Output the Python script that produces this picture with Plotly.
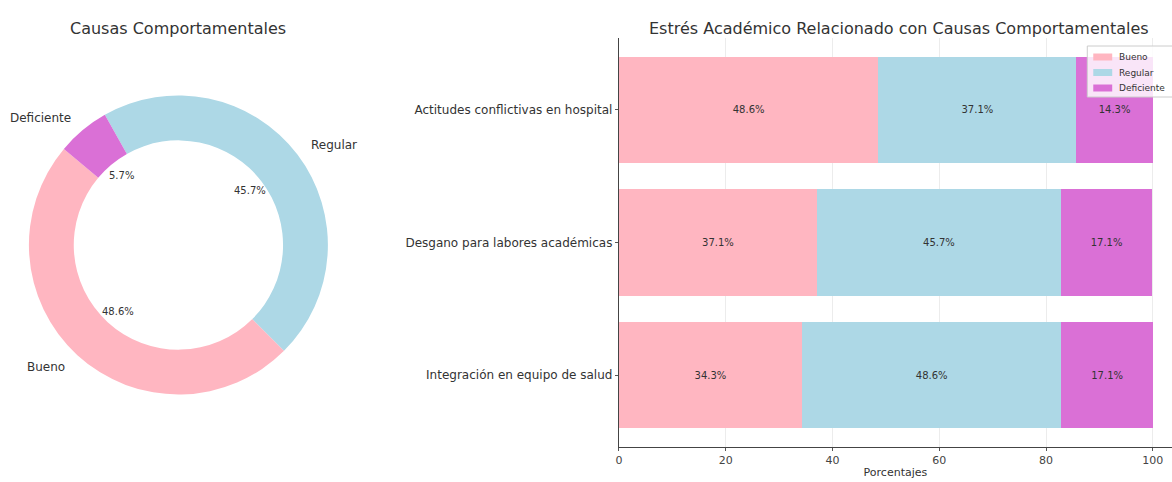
import math
import plotly.graph_objects as go

# ---- data ----
pie_labels = ["Bueno", "Regular", "Deficiente"]
pie_values = [48.6, 45.7, 5.7]

categories = [
    "Integración en equipo de salud",
    "Desgano para labores académicas",
    "Actitudes conflictivas en hospital",
]
bueno = [34.3, 37.1, 48.6]
regular = [48.6, 45.7, 37.1]
deficiente = [17.1, 17.1, 14.3]

series_names = ["Bueno", "Regular", "Deficiente"]
colors = ["#FFB6C1", "#ADD8E6", "#DA70D6"]
x_ticks = [0, 20, 40, 60, 80, 100]

W, H = 1172, 482
FONT = "DejaVu Sans"
TXT = "#333333"


def px(x):
    return x / W


def py(y):
    return 1 - y / H


fig = go.Figure()

# ---- donut ----
# slices run counterclockwise starting at 140 degrees (math convention)
cx, cy, r = 175, 245, 150
start_deg = 140
total = sum(pie_values)
first_span = pie_values[0] / total * 360
fig.add_trace(go.Pie(
    labels=pie_labels, values=pie_values, hole=0.7, sort=False,
    direction="counterclockwise", rotation=90 - start_deg - first_span,
    marker=dict(colors=colors, line=dict(width=0)),
    textinfo="none", hoverinfo="label+percent", showlegend=False,
    domain=dict(x=[px(cx - r), px(cx + r)], y=[py(cy + r), py(cy - r)]),
))

annotations = []
shapes = []
ang = start_deg
for lab, v in zip(pie_labels, pie_values):
    span = v / total * 360
    mid = math.radians(ang + span / 2)
    ang += span
    c, s = math.cos(mid), math.sin(mid)
    annotations.append(dict(
        x=px(cx + 1.1 * r * c), y=py(cy - 1.1 * r * s),
        xref="paper", yref="paper", text=lab, showarrow=False,
        xanchor="right" if c < 0 else "left", yanchor="middle",
        font=dict(family=FONT, size=12, color=TXT),
    ))
    annotations.append(dict(
        x=px(cx + 0.6 * r * c), y=py(cy - 0.6 * r * s),
        xref="paper", yref="paper", text=f"{v / total * 100:.1f}%",
        showarrow=False, xanchor="center", yanchor="middle",
        font=dict(family=FONT, size=10, color=TXT),
    ))

annotations.append(dict(
    x=px(cx), y=py(28), xref="paper", yref="paper",
    text="Causas Comportamentales", showarrow=False,
    xanchor="center", yanchor="middle",
    font=dict(family=FONT, size=16, color=TXT),
))
annotations.append(dict(
    x=px(898), y=py(28), xref="paper", yref="paper",
    text="Estrés Académico Relacionado con Causas Comportamentales",
    showarrow=False, xanchor="center", yanchor="middle",
    font=dict(family=FONT, size=16, color=TXT),
))

# ---- stacked horizontal bars ----
for name, vals, col in zip(series_names, [bueno, regular, deficiente], colors):
    fig.add_trace(go.Bar(
        y=categories, x=vals, name=name, orientation="h",
        marker=dict(color=col, line=dict(width=0)), width=0.8,
        text=[f"{v:.1f}%" for v in vals], textposition="inside",
        insidetextanchor="middle", constraintext="none",
        textfont=dict(family=FONT, size=10, color=TXT),
        showlegend=False, xaxis="x", yaxis="y",
    ))

# ---- compact legend box in the upper right corner ----
lg_left, lg_top, lg_bottom, row_h = 1087, 46, 97, 15.5
shapes.append(dict(
    type="rect", xref="paper", yref="paper", layer="above",
    x0=px(lg_left), x1=px(1185), y0=py(lg_bottom), y1=py(lg_top),
    fillcolor="rgba(255,255,255,0.82)", line=dict(color="#cccccc", width=1),
))
for i, (name, col) in enumerate(zip(series_names, colors)):
    yc = lg_top + 11 + i * row_h
    shapes.append(dict(
        type="rect", xref="paper", yref="paper", layer="above",
        x0=px(lg_left + 6), x1=px(lg_left + 25), y0=py(yc + 3.5), y1=py(yc - 3.5),
        fillcolor=col, line=dict(width=0),
    ))
    annotations.append(dict(
        x=px(lg_left + 30), y=py(yc), xref="paper", yref="paper",
        text=name, showarrow=False, xanchor="left", yanchor="middle",
        font=dict(family=FONT, size=9, color=TXT),
    ))

fig.update_layout(
    width=W, height=H, margin=dict(l=0, r=0, t=0, b=0),
    paper_bgcolor="white", plot_bgcolor="white",
    barmode="stack", bargap=0.2, showlegend=False,
    font=dict(family=FONT, color=TXT),
    annotations=annotations, shapes=shapes,
    xaxis=dict(
        domain=[px(617), 1], range=[0, 103.6],
        tickvals=x_ticks, ticks="outside", ticklen=3, tickcolor="#555",
        tickfont=dict(family=FONT, size=11, color="#444"),
        showgrid=True, gridcolor="#ececec", gridwidth=1,
        showline=True, linecolor="#444", linewidth=1.2,
        zeroline=False, anchor="y",
        title=dict(text="Porcentajes", font=dict(family=FONT, size=11, color=TXT), standoff=2),
    ),
    yaxis=dict(
        domain=[py(447), py(38)], range=[-0.54, 2.54],
        type="category", categoryorder="array", categoryarray=categories,
        ticks="outside", ticklen=3, tickcolor="#555",
        tickfont=dict(family=FONT, size=12, color=TXT),
        showline=True, linecolor="#444", linewidth=1.2,
        showgrid=False, zeroline=False, anchor="x",
    ),
)

fig.write_html("out.html")
